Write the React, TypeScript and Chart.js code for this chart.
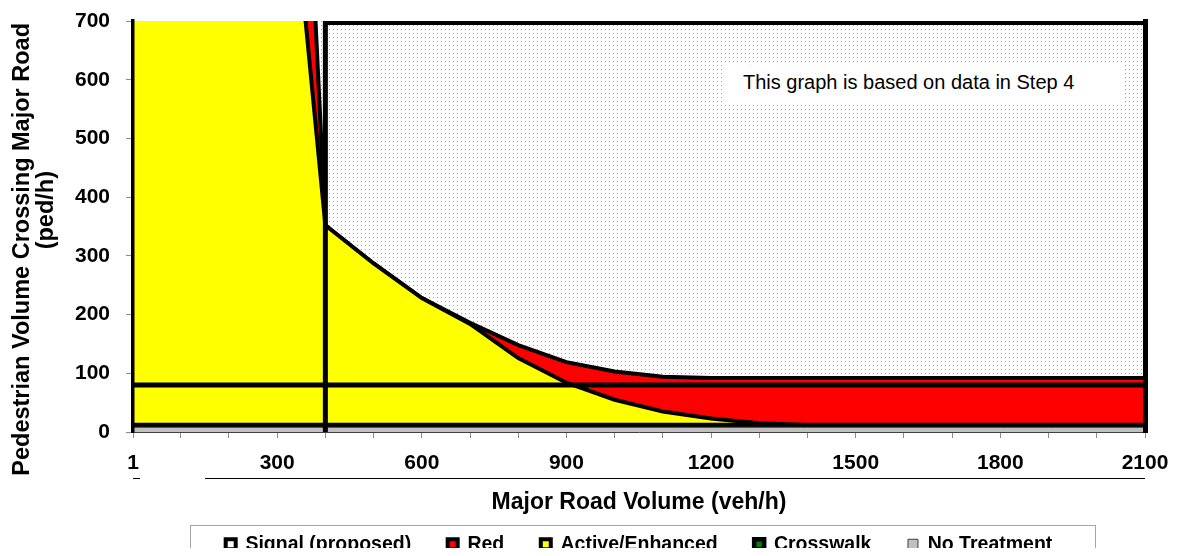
import React, { useEffect, useRef } from 'react';
import { Chart, registerables } from 'chart.js';

Chart.register(...registerables);

// Major road volume categories (veh/h)
const VOLUMES = [1, 100, 200, 300, 400, 500, 600, 700, 800, 900, 1000, 1100, 1200, 1300, 1400, 1500, 1600, 1700, 1800, 1900, 2000, 2100];
// Pedestrian volume thresholds (ped/h) per series
const SIGNAL = [null, null, null, null, 700, 700, 700, 700, 700, 700, 700, 700, 700, 700, 700, 700, 700, 700, 700, 700, 700, 700];
const RED = [5200, 3900, 2900, 2050, 352, 287, 228, 186, 148, 119, 103, 94, 92, 92, 92, 92, 92, 92, 92, 92, 92, 92];
const ACTIVE = [4000, 2600, 1750, 1200, 352, 287, 228, 184, 126, 84, 55, 35, 23, 15, 12, 12, 12, 12, 12, 12, 12, 12];
const CROSSWALK = [12, 12, 12, 12, 12, 12, 12, 12, 12, 12, 12, 12, 12, 12, 12, 12, 12, 12, 12, 12, 12, 12];
const NO_TREATMENT = [8, 8, 8, 8, 8, 8, 8, 8, 8, 8, 8, 8, 8, 8, 8, 8, 8, 8, 8, 8, 8, 8];
// Reference cross-hair lines
const INPUT_VOLUME_X = [400, 400];
const INPUT_VOLUME_Y = [0, 700];
const INPUT_PED_X = [1, 2100];
const INPUT_PED_Y = [80, 80];
// Axis labels
const X_LABELED = [1, 300, 600, 900, 1200, 1500, 1800, 2100];
const SERIES_NAMES = ['Signal (proposed)', 'Red', 'Active/Enhanced', 'Crosswalk', 'No Treatment'];
const Y_TITLE = ['Pedestrian Volume Crossing Major Road       ', '     (ped/h)'];
const X_TITLE = 'Major Road Volume (veh/h)';

const FONT = "'Liberation Sans', Arial, sans-serif";

const toPts = (xs: number[], ys: (number | null)[]) => xs.map((x, i) => ({ x, y: ys[i] }));

export default function App() {
  const ref = useRef<HTMLCanvasElement>(null);

  useEffect(() => {
    const canvas = ref.current!;
    const tile = document.createElement('canvas');
    tile.width = 4;
    tile.height = 4;
    const tctx = tile.getContext('2d')!;
    tctx.fillStyle = '#ffffff';
    tctx.fillRect(0, 0, 4, 4);
    tctx.fillStyle = '#a4a4a4';
    tctx.fillRect(1, 1, 1, 1);
    const pattern = canvas.getContext('2d')!.createPattern(tile, 'repeat')!;

    const bgPlugin = {
      id: 'plotBg',
      beforeDatasetsDraw(chart: any) {
        const { ctx, chartArea: a } = chart;
        ctx.save();
        ctx.fillStyle = pattern;
        ctx.fillRect(a.left, a.top, a.right - a.left, a.bottom - a.top);
        ctx.restore();
      },
    };

    const decoPlugin = {
      id: 'deco',
      afterDraw(chart: any) {
        const { ctx } = chart;
        ctx.save();
        ctx.strokeStyle = '#000';
        ctx.lineWidth = 1;
        ctx.beginPath();
        ctx.moveTo(197, 470.5);
        ctx.lineTo(1137, 470.5);
        ctx.moveTo(125, 470.5);
        ctx.lineTo(132, 470.5);
        ctx.stroke();
        ctx.strokeStyle = '#a6a6a6';
        ctx.strokeRect(182.5, 517.5, 905, 100);
        ctx.restore();
      },
    };

    const area = (label: string, ys: (number | null)[], bg: any, order: number, bw: number, bc: string) => ({
      label,
      data: toPts(VOLUMES, ys),
      backgroundColor: bg,
      borderColor: bc,
      borderWidth: bw,
      fill: 'origin',
      pointRadius: 0,
      pointHoverRadius: 0,
      tension: 0,
      order,
      clip: 0,
    });

    const chart = new Chart(canvas, {
      type: 'line',
      data: {
        datasets: [
          area(SERIES_NAMES[0], SIGNAL, pattern, 7, 8, '#000'),
          area(SERIES_NAMES[1], RED, '#ff0000', 6, 4, '#000'),
          area(SERIES_NAMES[2], ACTIVE, '#ffff00', 5, 4, '#000'),
          area(SERIES_NAMES[3], CROSSWALK, '#008000', 4, 4.5, '#000'),
          area(SERIES_NAMES[4], NO_TREATMENT, '#c0c0c0', 3, 1, '#404040'),
          {
            label: 'volume',
            data: toPts(INPUT_VOLUME_X, INPUT_VOLUME_Y),
            borderColor: '#000',
            borderWidth: 5,
            pointRadius: 0,
            fill: false,
            order: 1,
            clip: { left: 0, right: 0, top: 0, bottom: 4 },
          },
          {
            label: 'ped',
            data: toPts(INPUT_PED_X, INPUT_PED_Y),
            borderColor: '#000',
            borderWidth: 5,
            pointRadius: 0,
            fill: false,
            order: 0,
            clip: 0,
          },
        ] as any,
      },
      options: {
        animation: false,
        responsive: true,
        maintainAspectRatio: false,
        layout: { padding: { top: 13, left: 0, right: 0, bottom: 0 } },
        interaction: { mode: 'nearest', intersect: true },
        plugins: {
          tooltip: { enabled: false },
          legend: {
            position: 'bottom',
            fullSize: false,
            labels: {
              boxWidth: 10,
              boxHeight: 10,
              padding: 36.5,
              color: '#000',
              font: { family: FONT, size: 19.5, weight: 'bold' },
              filter: (item: any) => item.datasetIndex < 5,
              sort: (a: any, b: any) => a.datasetIndex - b.datasetIndex,
              generateLabels: (ch: any) => {
                const items = (Chart.defaults.plugins.legend.labels as any).generateLabels(ch);
                return items.map((it: any) =>
                  it.datasetIndex === 0 ? { ...it, lineWidth: 4, fillStyle: '#ffffff' } : it
                );
              },
            },
          },
        },
        scales: {
          x: {
            type: 'linear',
            min: 1,
            max: 2100,
            afterBuildTicks: (scale: any) => {
              scale.ticks = VOLUMES.map((v) => ({ value: v }));
            },
            afterFit: (scale: any) => {
              scale.height = 66;
              scale.paddingLeft = 0;
              scale.paddingRight = 0;
            },
            ticks: {
              autoSkip: false,
              maxRotation: 0,
              minRotation: 0,
              padding: 13,
              color: '#000',
              font: { family: FONT, size: 21, weight: 'bold' },
              callback: (v: any) => (X_LABELED.includes(Number(v)) ? String(v) : ''),
            },
            grid: { display: true, drawOnChartArea: false, drawTicks: true, tickLength: 6, color: '#8c8c8c' },
            border: { display: true, color: '#404040', width: 1, z: 1 },
            title: {
              display: true,
              text: X_TITLE,
              color: '#000',
              font: { family: FONT, size: 23, weight: 'bold' },
              padding: { top: 0, bottom: -18 },
            },
          },
          y: {
            type: 'linear',
            min: 0,
            max: 700,
            afterFit: (scale: any) => {
              scale.width = 125;
              scale.paddingTop = 0;
              scale.paddingBottom = 0;
            },
            ticks: {
              stepSize: 100,
              padding: 16,
              color: '#000',
              font: { family: FONT, size: 21, weight: 'bold' },
            },
            grid: { display: true, drawOnChartArea: false, drawTicks: true, tickLength: 7, color: '#8c8c8c' },
            border: { display: true, color: '#000', width: 3.5, z: 1 },
            title: {
              display: true,
              text: Y_TITLE,
              color: '#000',
              font: { family: FONT, size: 23.5, weight: 'bold', lineHeight: 1.05 },
              padding: { top: 2, bottom: 0 },
            },
          },
          y2: {
            type: 'linear',
            position: 'right',
            min: 0,
            max: 700,
            afterFit: (scale: any) => {
              scale.width = 24;
              scale.paddingTop = 0;
              scale.paddingBottom = 0;
            },
            ticks: { display: false },
            grid: { display: false, drawTicks: false },
            border: { display: true, color: '#000', width: 5, z: 1 },
          },
        },
      } as any,
      plugins: [bgPlugin, decoPlugin],
    });

    return () => chart.destroy();
  }, []);

  return (
    <div style={{ position: 'relative', width: 1161, height: 548, marginBottom: -8, overflow: 'hidden' }}>
      <div style={{ position: 'absolute', left: 0, top: 0, width: 1161, height: 556 }}>
        <canvas ref={ref} />
      </div>
      <div
        style={{
          position: 'absolute',
          left: 717,
          top: 55,
          width: 398,
          height: 39,
          background: '#ffffff',
          fontFamily: FONT,
          fontSize: 20,
          lineHeight: '39px',
          paddingLeft: 18,
          boxSizing: 'border-box',
          whiteSpace: 'nowrap',
          color: '#000',
        }}
      >
        This graph is based on data in Step 4
      </div>
    </div>
  );
}
